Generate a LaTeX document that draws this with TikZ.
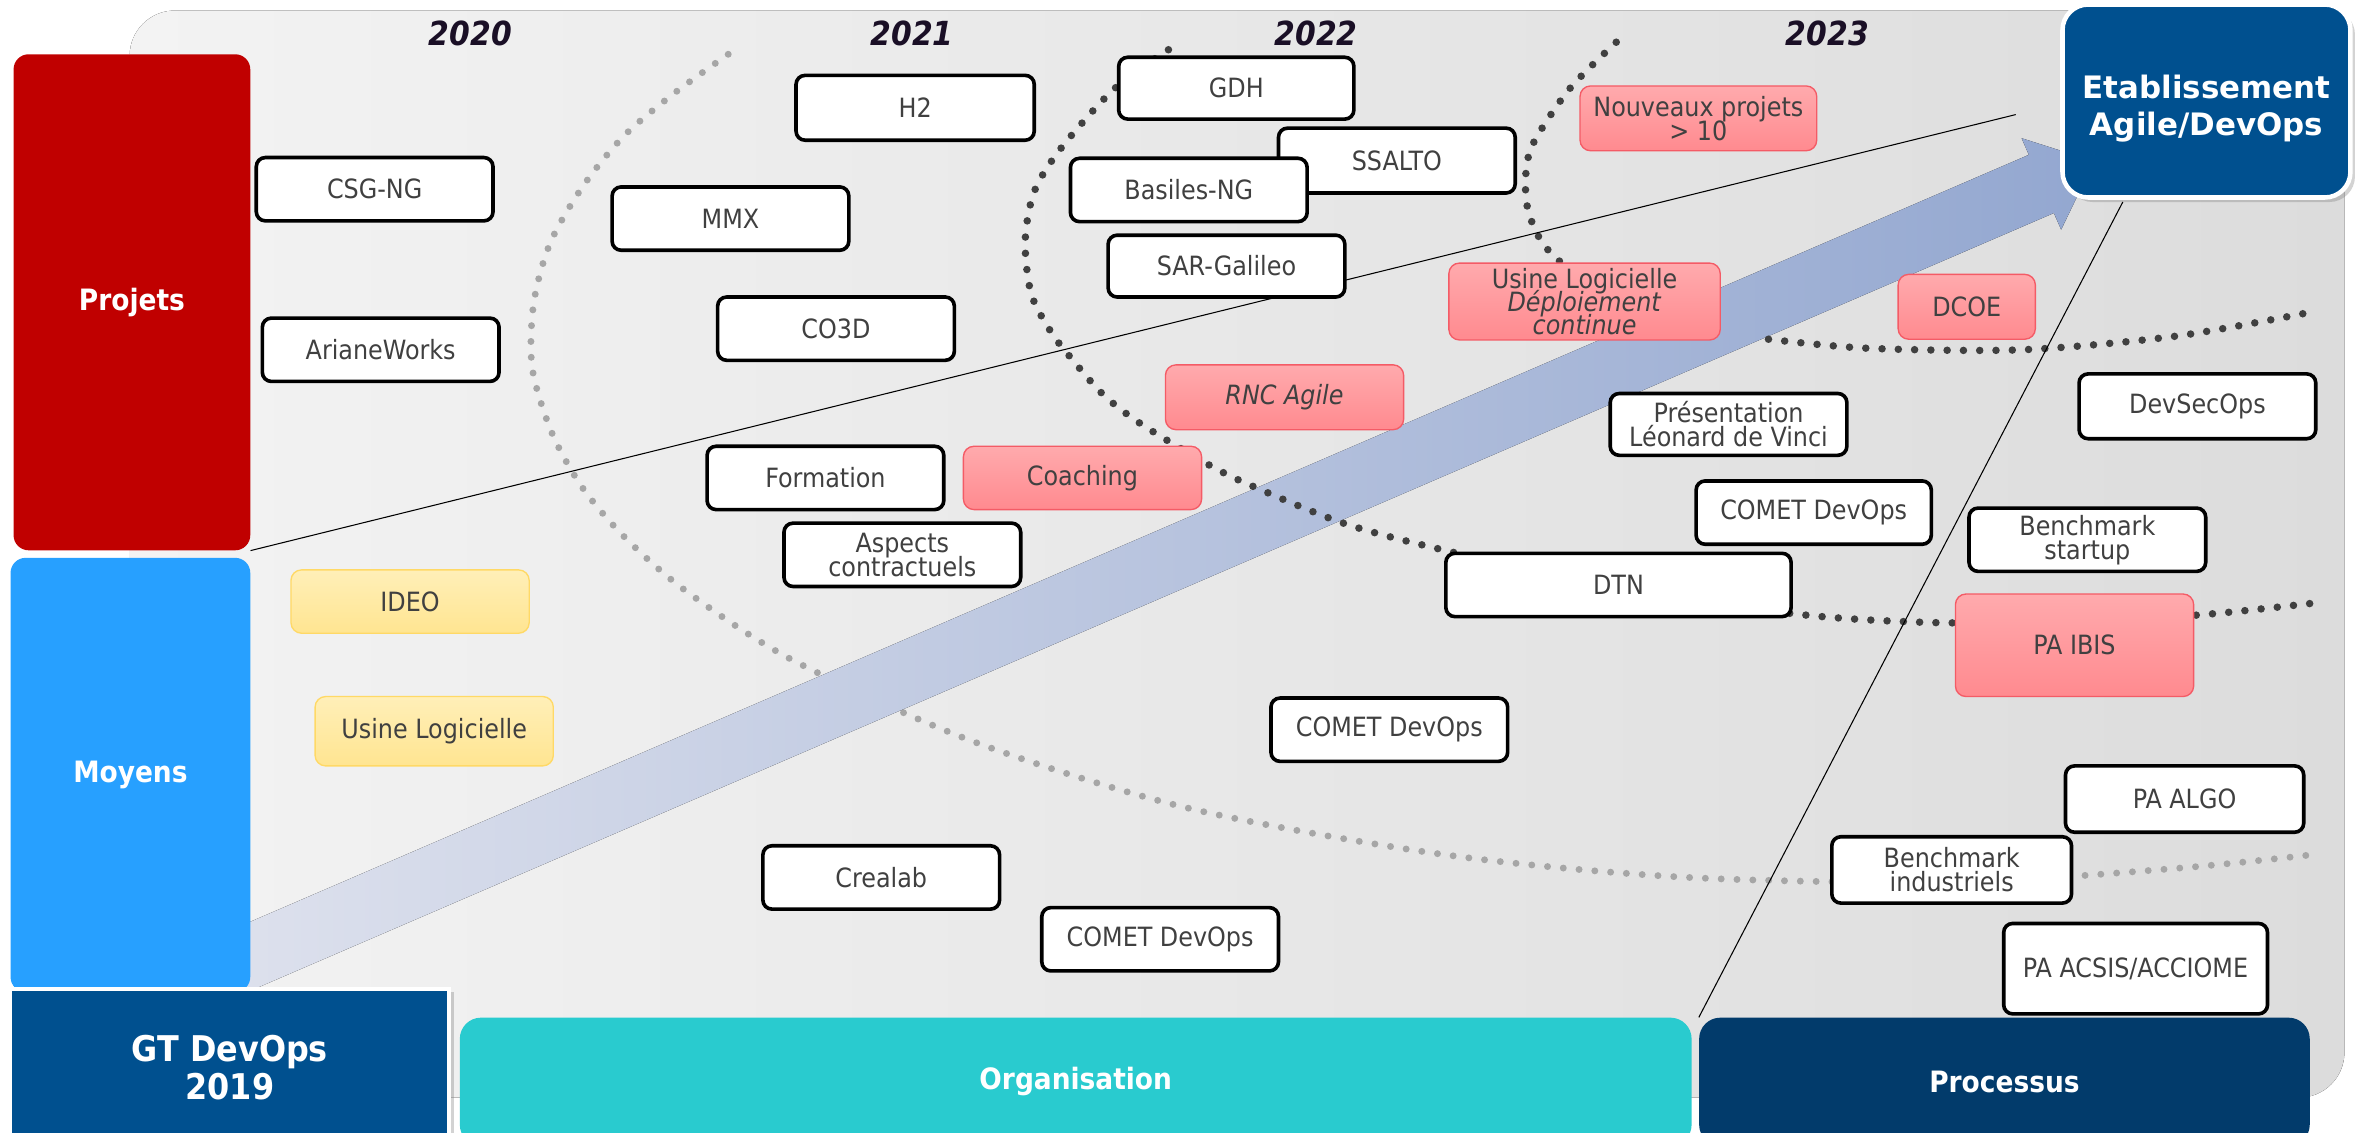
\documentclass[tikz,border=0pt]{standalone}
\usepackage{fontspec}
\setmainfont{DejaVu Sans Condensed}
\newfontfamily\widefont{DejaVu Sans}
\newcommand\tightlines{\lineskiplimit=-8pt\relax}
\usetikzlibrary{shadows}
\definecolor{txtgray}{HTML}{404040}
\definecolor{yearcol}{HTML}{1A0F26}
\definecolor{bgl}{HTML}{F3F3F3}
\definecolor{bgr}{HTML}{DCDCDC}
\definecolor{projred}{HTML}{C00000}
\definecolor{moyblue}{HTML}{27A0FF}
\definecolor{gtblue}{HTML}{00508F}
\definecolor{orgteal}{HTML}{29CBCF}
\definecolor{procnavy}{HTML}{023B6B}
\definecolor{pinktop}{HTML}{FFAAAD}
\definecolor{pinkbot}{HTML}{FF8A8F}
\definecolor{pinkline}{HTML}{F45B66}
\definecolor{ylwtop}{HTML}{FFEFB8}
\definecolor{ylwbot}{HTML}{FFE591}
\definecolor{ylwline}{HTML}{FFD966}
\definecolor{dotdark}{HTML}{404040}
\definecolor{dotgray}{HTML}{A6A6A6}
\definecolor{arrl}{HTML}{E0E3EE}
\definecolor{arrr}{HTML}{93A7D0}
\begin{document}
\begin{tikzpicture}[x=1pt,y=-1pt,
  boxfont/.style={font=\fontsize{17.6}{16}\selectfont\tightlines},
  wbox/.style={draw=black, line width=2.4pt, fill=white, rounded corners=6pt, text=txtgray, boxfont, align=center, minimum width=157pt, minimum height=42pt, inner sep=0pt},
  pbox/.style={draw=pinkline, line width=0.9pt, top color=pinktop, bottom color=pinkbot, rounded corners=7pt, text=txtgray, boxfont, align=center, minimum width=157pt, minimum height=42pt, inner sep=0pt},
  ybox/.style={draw=ylwline, line width=0.9pt, top color=ylwtop, bottom color=ylwbot, rounded corners=7pt, text=txtgray, boxfont, align=center, minimum width=158pt, minimum height=42pt, inner sep=0pt},
  bigbar/.style={text=white, font=\bfseries\fontsize{19.5}{22}\selectfont, align=center, inner sep=0pt},
  yearlbl/.style={font=\bfseries\itshape\fontsize{22}{24}\selectfont, text=yearcol},
  ddots/.style={draw=dotdark, line width=5pt, line cap=round, dash pattern=on 0pt off 10.8pt},
  gdots/.style={draw=dotgray, line width=4.6pt, line cap=round, dash pattern=on 0pt off 10.5pt},
  thinline/.style={draw=black, line width=0.7pt}
]
\clip (0,0) rectangle (1568,751);
% background panel
\fill[left color=bgl, right color=bgr, rounded corners=30pt] (86,7) rectangle (1555,728);

% grey dotted arc
\draw[gdots] plot[smooth] coordinates {(483,36) (447,62) (414,90) (387,123) (365,161) (354,201) (353,244) (366,287) (386,323) (414,356) (455,392) (526,438) (646,492) (788,536) (959,567) (1120,582) (1300,585) (1443,576) (1533,567)};

% big arrow
\fill[left color=arrl, right color=arrr] (119.3,677.3) -- (1362.3,141.3) -- (1367.1,152.3) -- (1389,107) -- (1340.9,91.7) -- (1345.7,102.7) -- (102.7,638.7) -- cycle;

% dark dotted arcs
\draw[ddots] plot[smooth] coordinates {(775,33) (739,59) (704,98) (686,127) (680,160) (684,195) (697,220) (710,237) (732,262) (758,282) (803,309) (832,323) (891,347) (954,364) (1080,392) (1198,408) (1285,413) (1370,412) (1457,408) (1535,400)};
\draw[ddots] plot[smooth] coordinates {(1072,28) (1041,59) (1017,95) (1012,116) (1013,137) (1020,156) (1033,172) (1070,200) (1110,212)};
\draw[ddots] plot[smooth] coordinates {(1173,225) (1239,231) (1341,232) (1443,223) (1533,207)};

% years
\node[yearlbl] (y20) at (312,22) {2020};
\node[yearlbl] (y21) at (605,22) {2021};
\node[yearlbl] (y22) at (873,22) {2022};
\node[yearlbl] (y23) at (1212,22) {2023};

% left column
\node[fill=projred, rounded corners=10pt, minimum width=157pt, minimum height=329pt, bigbar] (projets) at (87.5,200.5) {Projets};
\node[fill=moyblue, rounded corners=10pt, minimum width=159pt, minimum height=288pt, bigbar] (moyens) at (86.5,514) {Moyens};

% thin lines
\coordinate (l1end) at (1337,76);
\coordinate (l2end) at (1408,134);
\draw[thinline] (projets.south east) -- (l1end);

% white boxes
\node[wbox] (csg) at (248.5,125.5) {CSG-NG};
\node[wbox] (ariane) at (252.5,232) {ArianeWorks};
\node[wbox] (mmx) at (484.5,145) {MMX};
\node[wbox, minimum width=158pt, minimum height=43pt] (h2) at (607,71.5) {H2};
\node[wbox] (co3d) at (554.5,218) {CO3D};
\node[wbox] (formation) at (547.5,317) {Formation};
\node[wbox] (aspects) at (598.5,368) {Aspects\\contractuels};
\node[wbox, minimum width=156pt, minimum height=41pt] (gdh) at (820,58.5) {GDH};
\node[wbox, minimum height=43pt] (ssalto) at (926.5,106.5) {SSALTO};
\node[wbox] (basiles) at (788.5,126) {Basiles-NG};
\node[wbox, minimum height=41pt] (sar) at (813.5,176.5) {SAR-Galileo};
\node[wbox, minimum height=41pt] (presentation) at (1146.5,281.5) {Présentation\\Léonard de Vinci};
\node[wbox, minimum width=156pt] (cometa) at (1203,340) {COMET DevOps};
\node[wbox, minimum width=229pt] (dtn) at (1073.5,388) {DTN};
\node[wbox] (cometb) at (921.5,484) {COMET DevOps};
\node[wbox] (crealab) at (584.5,582) {Crealab};
\node[wbox] (cometc) at (769.5,623) {COMET DevOps};
\node[wbox, minimum height=43pt] (devsecops) at (1457.5,269.5) {DevSecOps};
\node[wbox] (benchstart) at (1384.5,358) {Benchmark\\startup};
\node[wbox, minimum width=158pt, minimum height=44pt] (paalgo) at (1449,530) {PA ALGO};
\node[wbox, minimum width=159pt, minimum height=44pt] (benchind) at (1294.5,577) {Benchmark\\industriels};
\node[wbox, minimum width=175pt, minimum height=60pt] (paacsis) at (1416.5,642.5) {PA ACSIS/ACCIOME};

% pink boxes
\node[pbox, minimum width=158pt, minimum height=43pt, font=\itshape\fontsize{17.6}{16}\selectfont] (rnc) at (852,263.5) {RNC Agile};
\node[pbox, minimum width=158pt] (coaching) at (718,317) {Coaching};
\node[pbox, minimum width=180pt, minimum height=51pt, font=\fontsize{17.6}{15.5}\selectfont\tightlines] (usine) at (1051,200) {Usine Logicielle\\\textit{Déploiement}\\\textit{continue}};
\node[pbox, minimum height=43pt] (nouveaux) at (1126.5,78.5) {Nouveaux projets\\> 10};
\node[pbox, minimum width=91pt, minimum height=43pt] (dcoe) at (1304.5,203.5) {DCOE};
\node[pbox, minimum width=158pt, minimum height=68pt] (paibis) at (1376,428) {PA IBIS};

% yellow boxes
\node[ybox] (ideo) at (272,399) {IDEO};
\node[ybox, minimum height=46pt] (usine2) at (288,485) {Usine Logicielle};

% bottom bars
\node[fill=gtblue, draw=white, line width=2.5pt, drop shadow={opacity=0.35, shadow xshift=3pt, shadow yshift=-2pt}, minimum width=291pt, minimum height=104pt, bigbar, font=\bfseries\fontsize{23.5}{25}\selectfont] (gt) at (152.5,708) {GT DevOps\\2019};
\node[fill=orgteal, rounded corners=14pt, minimum width=817pt, minimum height=85pt, bigbar] (org) at (713.5,717.5) {Organisation};
\node[fill=procnavy, rounded corners=14pt, minimum width=405pt, minimum height=85pt, bigbar] (proc) at (1329.5,717.5) {Processus};

% right top box
\node[fill=gtblue, draw=white, line width=3pt, rounded corners=17pt, drop shadow={opacity=0.35, shadow xshift=3pt, shadow yshift=-3pt}, minimum width=191pt, minimum height=128pt] (etab) at (1463.5,67) {};
\node[text=white, align=center, inner sep=0pt, font=\widefont\bfseries\fontsize{20.5}{25}\selectfont] (etabtext) at (1463.5,72) {Etablissement\\Agile/DevOps};

\draw[thinline] (proc.north west) -- (l2end);
\end{tikzpicture}
\end{document}
